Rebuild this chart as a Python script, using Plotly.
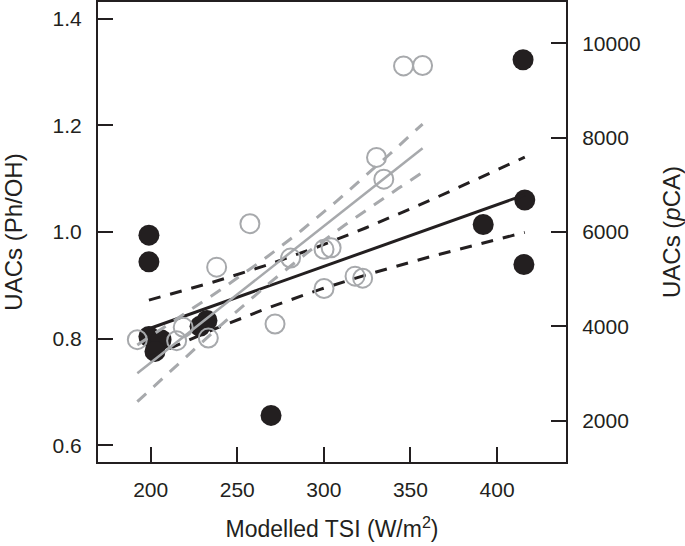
import numpy as np
import plotly.graph_objects as go

# Black filled circles: UACs (Ph/OH), left axis
tsi_ph = [199, 199, 199, 206, 202.5, 228.5, 232.5, 269.5, 392, 416, 415.5, 415]
ph_oh = [0.994, 0.944, 0.804, 0.798, 0.776, 0.823, 0.834, 0.656, 1.014, 1.060, 0.939, 1.323]

# Grey open circles: UACs (pCA), right axis
tsi_pca = [192.3, 215.0, 218.8, 233.3, 238.1, 257.3, 271.8, 280.8, 300.1, 304.2,
           300.1, 318.0, 322.4, 330.4, 334.6, 346.0, 357.0]
pca = [3717, 3695, 3978, 3751, 5255, 6177, 4049, 5447, 5632, 5666,
       4802, 5064, 5021, 7581, 7121, 9522, 9532]

x_ticks = [200, 250, 300, 350, 400]
y_ticks = [0.6, 0.8, 1.0, 1.2, 1.4]
y2_ticks = [2000, 4000, 6000, 8000, 10000]

BLACK = "#231f20"
GREY = "#a7a9ac"
FONT = "Liberation Sans, Arial, sans-serif"


def fit_band(x, y, n=60):
    x = np.asarray(x, float)
    y = np.asarray(y, float)
    b, a = np.polyfit(x, y, 1)
    res = y - (a + b * x)
    s = np.sqrt(np.sum(res ** 2) / (len(x) - 2))
    sxx = np.sum((x - x.mean()) ** 2)
    xs = np.linspace(x.min(), x.max(), n)
    yh = a + b * xs
    se = s * np.sqrt(1 / len(x) + (xs - x.mean()) ** 2 / sxx)
    return xs, yh, yh - se, yh + se


fig = go.Figure()

# grey series (right axis)
gx, gy, glo, ghi = fit_band(tsi_pca, pca)
fig.add_trace(go.Scatter(x=tsi_pca, y=pca, mode="markers", yaxis="y2",
                         marker=dict(symbol="circle-open", size=19, color=GREY,
                                     line=dict(width=2, color=GREY)),
                         showlegend=False))
fig.add_trace(go.Scatter(x=gx, y=gy, mode="lines", yaxis="y2",
                         line=dict(color=GREY, width=2.5), showlegend=False))
for band in (glo, ghi):
    fig.add_trace(go.Scatter(x=gx, y=band, mode="lines", yaxis="y2",
                             line=dict(color=GREY, width=3, dash="12px,10px"),
                             showlegend=False))

# black series (left axis)
bx, by, blo, bhi = fit_band(tsi_ph, ph_oh)
fig.add_trace(go.Scatter(x=tsi_ph, y=ph_oh, mode="markers", yaxis="y",
                         marker=dict(symbol="circle", size=21, color=BLACK,
                                     line=dict(width=0)),
                         showlegend=False))
fig.add_trace(go.Scatter(x=bx, y=by, mode="lines", yaxis="y",
                         line=dict(color=BLACK, width=3), showlegend=False))
for band in (blo, bhi):
    fig.add_trace(go.Scatter(x=bx, y=band, mode="lines", yaxis="y",
                             line=dict(color=BLACK, width=3, dash="12px,10px"),
                             showlegend=False))

axis_common = dict(showgrid=False, zeroline=False, showline=True, linecolor=BLACK,
                   linewidth=2, ticks="inside", ticklen=15, tickwidth=2,
                   automargin=False,
                   tickcolor=BLACK, tickfont=dict(family=FONT, size=21, color=BLACK))

fig.update_layout(
    width=685, height=546,
    margin=dict(l=98, r=119, t=2, b=84),
    paper_bgcolor="white", plot_bgcolor="white",
    font=dict(family=FONT, color=BLACK),
    xaxis=dict(range=[169.6, 439.8], tickvals=x_ticks, mirror=True,
               ticklabelstandoff=8,
               title=dict(text="Modelled TSI (W/m<sup>2</sup>)",
                          font=dict(family=FONT, size=23, color=BLACK), standoff=21),
               **axis_common),
    yaxis=dict(range=[1 - 229.5 / 532, 1 + 229.5 / 532], tickvals=y_ticks,
               tickformat=".1f", ticklabelstandoff=10,
               title=dict(text="UACs (Ph/OH)",
                          font=dict(family=FONT, size=24, color=BLACK), standoff=28),
               **axis_common),
    yaxis2=dict(overlaying="y", side="right",
                range=[6000 - 229.5 / 0.04705, 6000 + 229.5 / 0.04705],
                tickvals=y2_ticks, tickformat="d", ticklabelstandoff=10,
                title=dict(text="UACs (<i>p</i>CA)",
                           font=dict(family=FONT, size=24, color=BLACK), standoff=24),
                **axis_common),
)

fig.write_html("out.html", config={"displayModeBar": False},
               post_script="document.body.style.margin='0';document.body.style.padding='0';")
